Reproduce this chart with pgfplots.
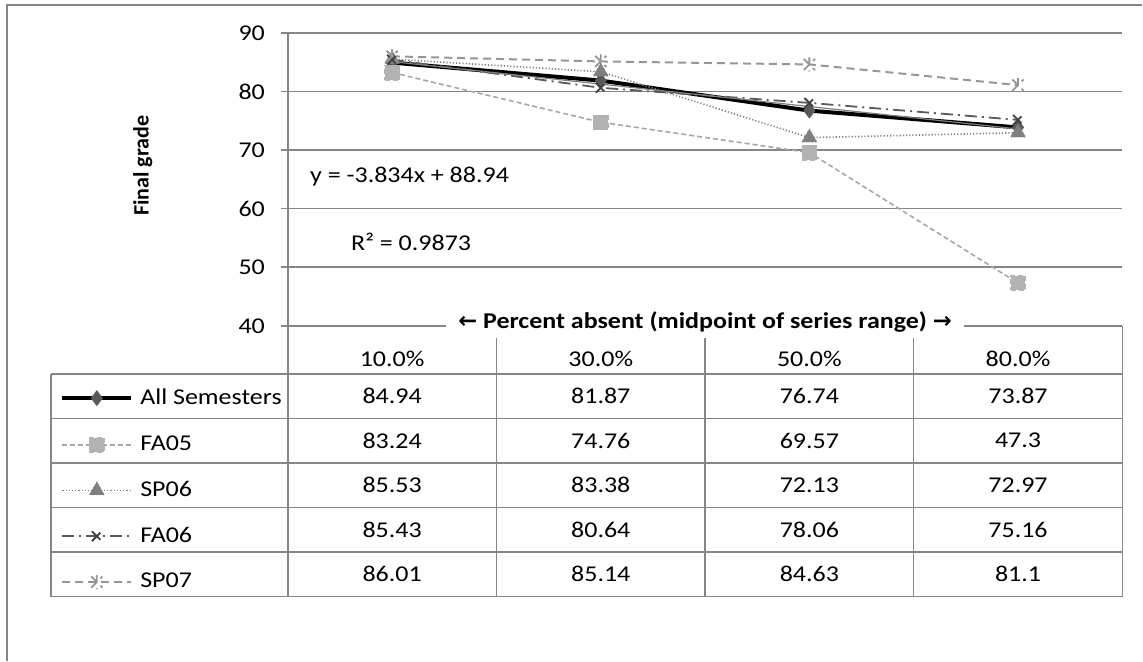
\documentclass[border=0pt]{standalone}
\usepackage{pgfplots}
\pgfplotsset{compat=1.18}
\usepackage{pgfplotstable}
\usepackage{fontspec}
\setmainfont{Carlito}[FakeStretch=1.15]
\newfontfamily\uprightlabel{Carlito}
\newfontfamily\arrowfont{DejaVu Sans}

\definecolor{gridgray}{HTML}{868686}
\definecolor{allmark}{HTML}{595959}
\definecolor{faofive}{HTML}{A6A6A6}
\definecolor{faofivemark}{HTML}{B2B2B2}
\definecolor{spsix}{HTML}{7F7F7F}
\definecolor{fasix}{HTML}{595959}
\definecolor{fasixmark}{HTML}{404040}
\definecolor{spseven}{HTML}{969696}

\newcommand\cf{\fontsize{11.3pt}{13.5pt}\selectfont}

% asterisk-like marker: an x crossed by a vertical bar
\pgfdeclareplotmark{xstar}{%
  \pgfpathmoveto{\pgfqpoint{0pt}{\pgfplotmarksize}}%
  \pgfpathlineto{\pgfqpoint{0pt}{-\pgfplotmarksize}}%
  \pgfpathmoveto{\pgfqpoint{-.8\pgfplotmarksize}{.8\pgfplotmarksize}}%
  \pgfpathlineto{\pgfqpoint{.8\pgfplotmarksize}{-.8\pgfplotmarksize}}%
  \pgfpathmoveto{\pgfqpoint{-.8\pgfplotmarksize}{-.8\pgfplotmarksize}}%
  \pgfpathlineto{\pgfqpoint{.8\pgfplotmarksize}{.8\pgfplotmarksize}}%
  \pgfusepathqstroke}

% final grade by absence band (midpoints 10%, 30%, 50%, 80%)
\pgfplotstableread{
x all   fa05  sp06  fa06  sp07
1 84.94 83.24 85.53 85.43 86.01
2 81.87 74.76 83.38 80.64 85.14
3 76.74 69.57 72.13 78.06 84.63
4 73.87 47.3  72.97 75.16 81.1
}\grades

% linear trend of the all-semester series
\pgfplotstableread{
x trend
1 85.106
2 81.272
3 77.438
4 73.604
}\trend

\begin{document}
\cf
\begin{tikzpicture}
\begin{scope}[x=0.5pt,y=-0.5pt]
  \useasboundingbox (0,0) rectangle (1143,661);
\end{scope}

\begin{axis}[
  at={(144pt,-163pt)}, anchor=south west,
  scale only axis, width=417.5pt, height=146.5pt,
  xmin=0.5, xmax=4.5, ymin=40, ymax=90,
  ytick={40,50,...,90},
  xtick={1,2,3,4},
  xticklabels={10.0\%,30.0\%,50.0\%,80.0\%},
  axis lines=left,
  axis line style={-, draw=gridgray, line width=0.75pt},
  x axis line style={draw=none},
  xtick style={draw=none},
  ytick style={draw=gridgray, line width=0.75pt},
  tick align=outside, major tick length=3.5pt,
  ymajorgrids,
  grid style={draw=gridgray, line width=0.75pt},
  /pgf/number format/assume math mode=true,
  tick label style={font=\cf},
  yticklabel style={xshift=-4pt},
  xticklabel style={anchor=center, yshift=-13pt},
  xlabel={{\arrowfont\bfseries ←} Percent absent (midpoint of series range) {\arrowfont\bfseries →}},
  xlabel style={at={(axis description cs:0.5,0)}, anchor=center, yshift=2pt,
    fill=white, inner xsep=6pt, inner ysep=1pt, font=\cf\bfseries},
  ylabel={Final grade},
  ylabel style={at={(axis description cs:-0.1737,0.546)}, anchor=center,
    font=\uprightlabel\fontsize{11pt}{13pt}\selectfont\bfseries},
  legend cell align=left,
  legend style={at={(axis description cs:-0.27305,-0.16382)}, anchor=north west,
    draw=none, fill=none, inner sep=0pt, row sep=0pt,
    nodes={inner sep=0pt}, font=\cf},
  % each legend sample spans one table row (22pt tall, line at its middle)
  legend image code/.code={%
    \path (0pt,-11pt) (0pt,11pt);
    \draw[mark repeat=2,mark phase=2,#1] plot coordinates {(0pt,0pt) (17.25pt,0pt) (34.5pt,0pt)};},
  every axis plot/.append style={every mark/.append style={solid}},
  clip=false,
]
\addplot[black, line width=2pt, mark=diamond*, mark size=3.6pt,
  mark options={fill=allmark, draw=allmark, line width=0.5pt}]
  table[x=x, y=all] {\grades};
\addlegendentry{\hspace*{3.5pt}All Semesters}

\addplot[faofive, line width=0.8pt, dash pattern=on 2.5pt off 1.5pt, mark=square*, mark size=3.7pt,
  mark options={fill=faofivemark, draw=faofivemark, line width=0.3pt}]
  table[x=x, y=fa05] {\grades};
\addlegendentry{\hspace*{3.5pt}FA05}

\addplot[spsix, line width=0.8pt, dash pattern=on 0.6pt off 1pt, mark=triangle*, mark size=4.4pt,
  mark options={fill=spsix, draw=spsix, line width=0.3pt}]
  table[x=x, y=sp06] {\grades};
\addlegendentry{\hspace*{3.5pt}SP06}

\addplot[fasix, line width=0.9pt, dash pattern=on 6pt off 2.5pt on 1pt off 2.5pt, mark=x, mark size=3.5pt,
  mark options={draw=fasixmark, line width=0.9pt}]
  table[x=x, y=fa06] {\grades};
\addlegendentry{\hspace*{3.5pt}FA06}

\addplot[spseven, line width=1pt, dash pattern=on 4pt off 2.5pt, mark=xstar, mark size=3.5pt,
  mark options={draw=spseven, line width=0.9pt}]
  table[x=x, y=sp07] {\grades};
\addlegendentry{\hspace*{3.5pt}SP07}

\addplot[spsix, line width=0.6pt, forget plot] table[x=x, y=trend] {\trend};
\end{axis}

\begin{scope}[x=0.5pt,y=-0.5pt]
  % chart frame
  \draw[gridgray, line width=0.7pt] (7,661) -- (7,5) -- (1143,5);
  % data table grid
  \begin{scope}[draw=gridgray, line width=0.75pt]
    \foreach \yy in {374,418.6,463.2,507.8,552.4,597}
      \draw (51,\yy) -- (1123,\yy);
    \draw (51,374) -- (51,597);
    \draw (288,326) -- (288,597);
    \foreach \xx in {496.75,705.5,914.25}
      \draw (\xx,338) -- (\xx,597);
    \draw (1123,326) -- (1123,597);
  \end{scope}
  % data table values
  \foreach \col [count=\j from 0] in {all,fa05,sp06,fa06,sp07} {
    \foreach \r in {0,1,2,3} {
      \pgfplotstablegetelem{\r}{\col}\of\grades
      \node at ({392.4+208.75*\r},{396.3+44.6*\j}) {\pgfplotsretval};
    }
  }
  % trend line annotation
  \node[anchor=west, inner sep=0pt] at (310,177) {y = -3.834x + 88.94};
  \node[anchor=west, inner sep=0pt] at (351,242) {R² = 0.9873};
\end{scope}
\end{tikzpicture}
\end{document}
